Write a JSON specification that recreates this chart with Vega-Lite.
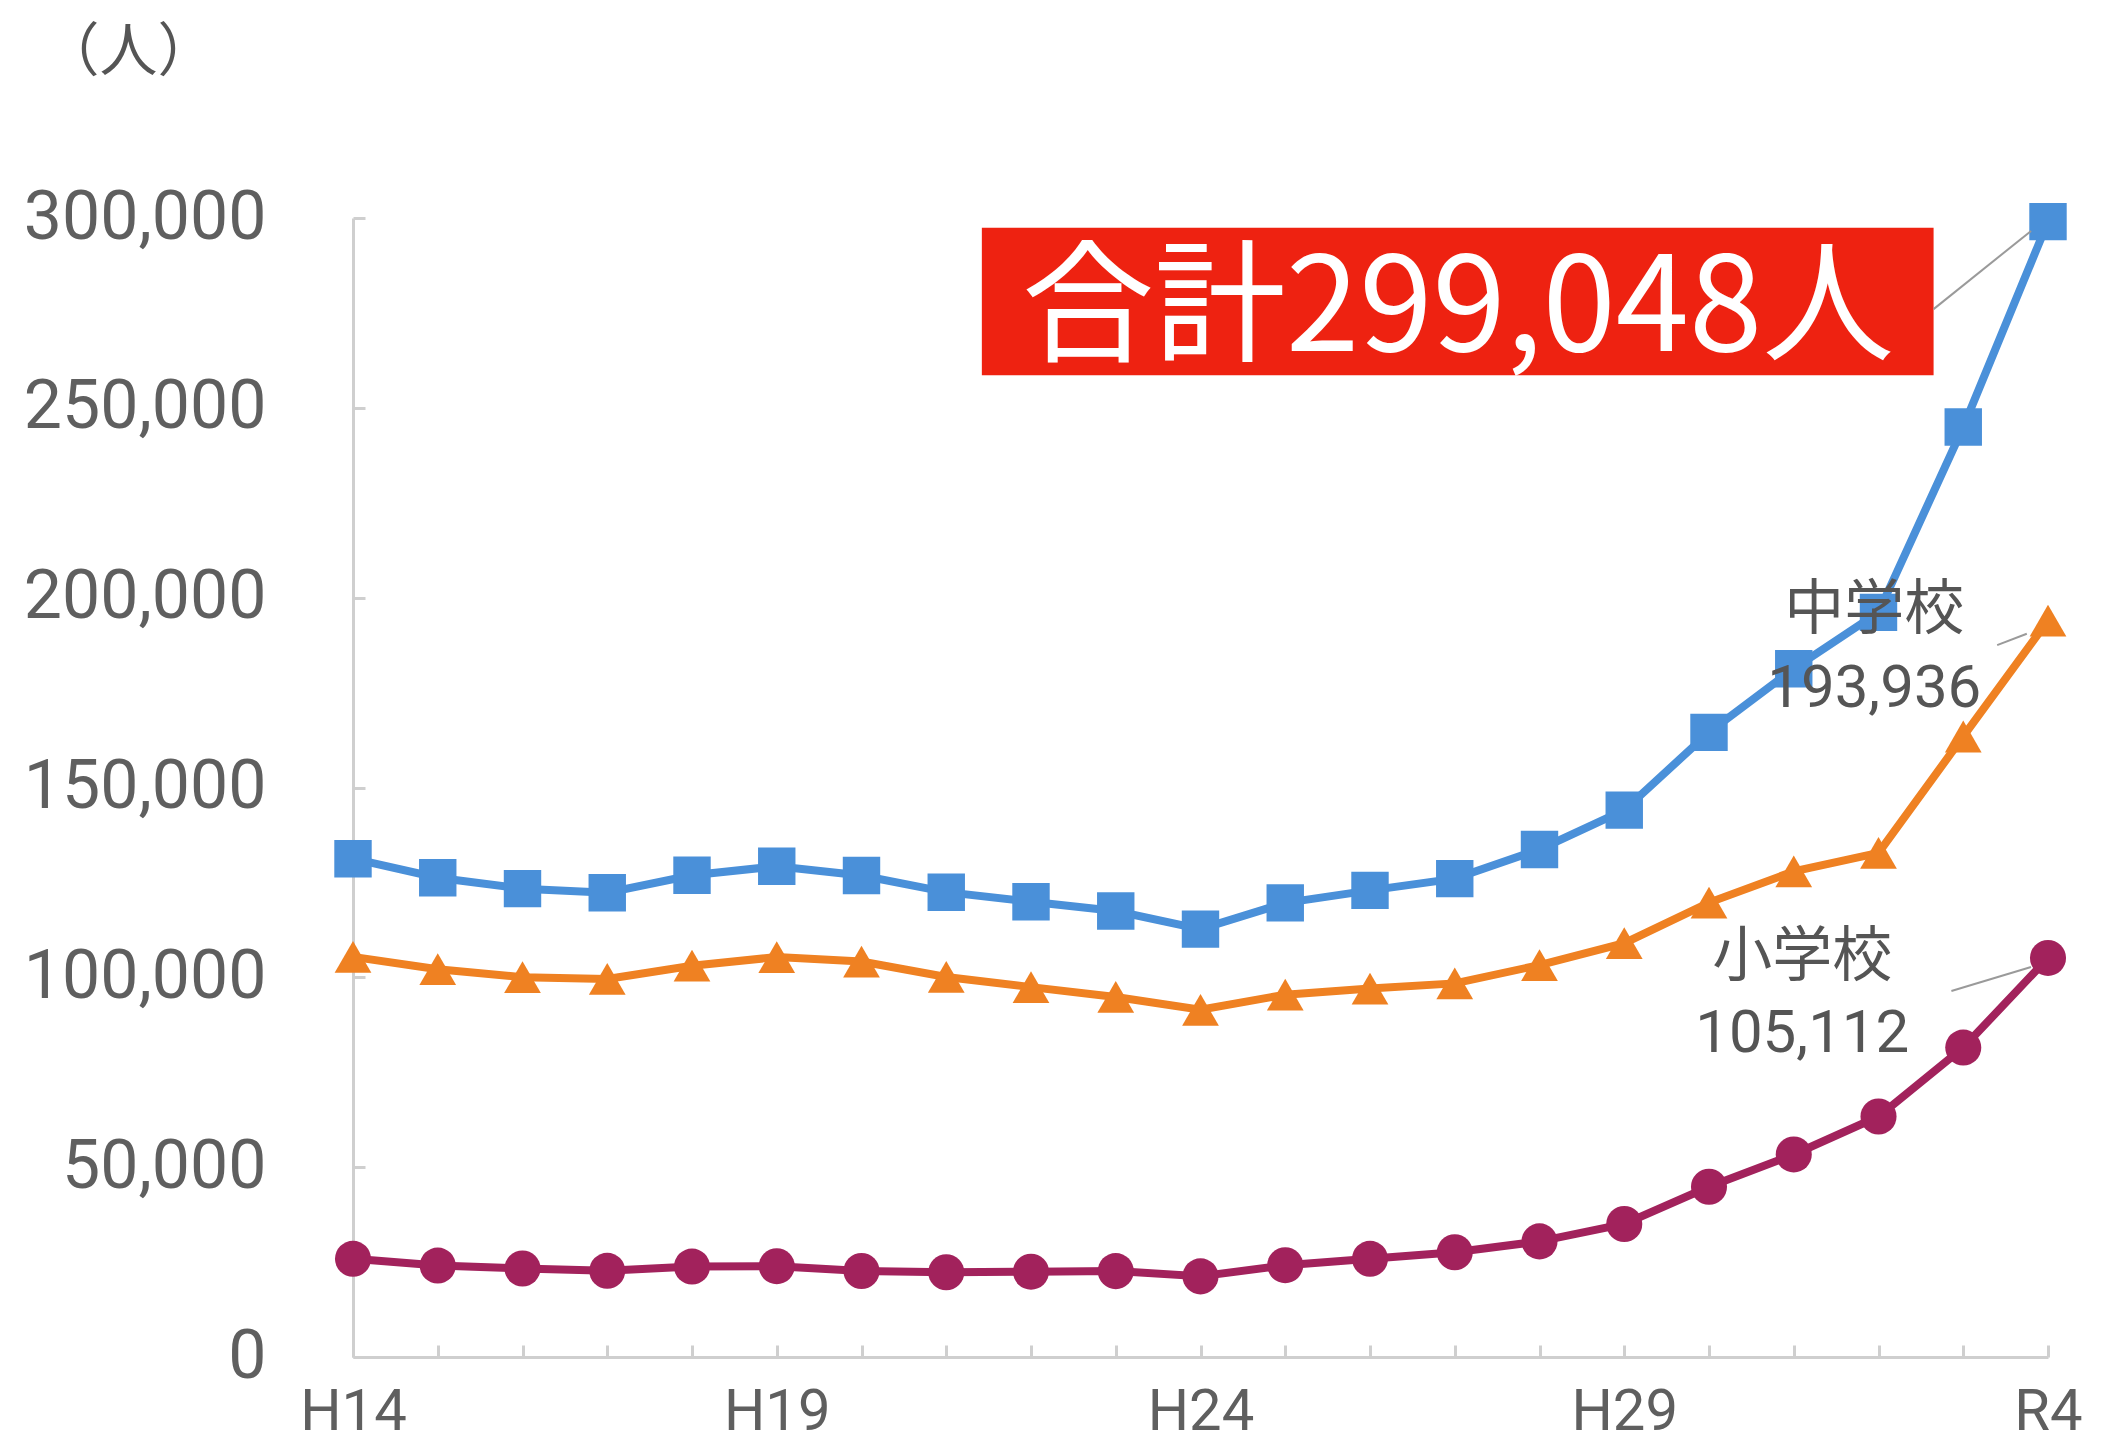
{
  "$schema": "https://vega.github.io/schema/vega-lite/v6.json",
  "width": 1695,
  "height": 1139,
  "autosize": {"type": "none"},
  "padding": {"left": 353, "top": 218, "right": 58, "bottom": 91},
  "background": "white",
  "config": {
    "view": {"stroke": null},
    "axisY": {
      "domainColor": "#cfcfcf", "domainWidth": 3,
      "tickColor": "#cfcfcf", "tickWidth": 3, "tickSize": -12,
      "labelFont": "Roboto, sans-serif",
      "labelFontSize": 68, "labelColor": "#5f5f5f", "labelPadding": 99,
      "labelLimit": 500,
      "grid": false
    },
    "axisX": {
      "domainColor": "#cfcfcf", "domainWidth": 3,
      "tickColor": "#cfcfcf", "tickWidth": 3, "tickSize": -12,
      "labelFont": "Roboto, sans-serif",
      "labelFontSize": 58, "labelColor": "#5f5f5f", "labelPadding": 38,
      "labelBaseline": "top",
      "grid": false
    }
  },
  "layer": [
    {
      "data": {"values": [
        {"year":"H14","series":"合計","value":131252},{"year":"H15","series":"合計","value":126226},{"year":"H16","series":"合計","value":123358},{"year":"H17","series":"合計","value":122287},{"year":"H18","series":"合計","value":126894},{"year":"H19","series":"合計","value":129255},{"year":"H20","series":"合計","value":126805},{"year":"H21","series":"合計","value":122432},{"year":"H22","series":"合計","value":119891},{"year":"H23","series":"合計","value":117458},{"year":"H24","series":"合計","value":112689},{"year":"H25","series":"合計","value":119617},{"year":"H26","series":"合計","value":122897},{"year":"H27","series":"合計","value":125991},{"year":"H28","series":"合計","value":133683},{"year":"H29","series":"合計","value":144031},{"year":"H30","series":"合計","value":164528},{"year":"R1","series":"合計","value":181272},{"year":"R2","series":"合計","value":196127},{"year":"R3","series":"合計","value":244940},{"year":"R4","series":"合計","value":299048},
        {"year":"H14","series":"中学校","value":105383},{"year":"H15","series":"中学校","value":102149},{"year":"H16","series":"中学校","value":100040},{"year":"H17","series":"中学校","value":99578},{"year":"H18","series":"中学校","value":103069},{"year":"H19","series":"中学校","value":105328},{"year":"H20","series":"中学校","value":104153},{"year":"H21","series":"中学校","value":100105},{"year":"H22","series":"中学校","value":97428},{"year":"H23","series":"中学校","value":94836},{"year":"H24","series":"中学校","value":91446},{"year":"H25","series":"中学校","value":95442},{"year":"H26","series":"中学校","value":97033},{"year":"H27","series":"中学校","value":98408},{"year":"H28","series":"中学校","value":103235},{"year":"H29","series":"中学校","value":108999},{"year":"H30","series":"中学校","value":119687},{"year":"R1","series":"中学校","value":127922},{"year":"R2","series":"中学校","value":132777},{"year":"R3","series":"中学校","value":163442},{"year":"R4","series":"中学校","value":193936},
        {"year":"H14","series":"小学校","value":25869},{"year":"H15","series":"小学校","value":24077},{"year":"H16","series":"小学校","value":23318},{"year":"H17","series":"小学校","value":22709},{"year":"H18","series":"小学校","value":23825},{"year":"H19","series":"小学校","value":23927},{"year":"H20","series":"小学校","value":22652},{"year":"H21","series":"小学校","value":22327},{"year":"H22","series":"小学校","value":22463},{"year":"H23","series":"小学校","value":22622},{"year":"H24","series":"小学校","value":21243},{"year":"H25","series":"小学校","value":24175},{"year":"H26","series":"小学校","value":25864},{"year":"H27","series":"小学校","value":27583},{"year":"H28","series":"小学校","value":30448},{"year":"H29","series":"小学校","value":35032},{"year":"H30","series":"小学校","value":44841},{"year":"R1","series":"小学校","value":53350},{"year":"R2","series":"小学校","value":63350},{"year":"R3","series":"小学校","value":81498},{"year":"R4","series":"小学校","value":105112}
      ]},
      "encoding": {
        "x": {
          "field": "year", "type": "ordinal",
          "sort": ["H14","H15","H16","H17","H18","H19","H20","H21","H22","H23","H24","H25","H26","H27","H28","H29","H30","R1","R2","R3","R4"],
          "scale": {"type": "point", "padding": 0},
          "title": null,
          "axis": {"labelAngle": 0, "labelExpr": "indexof(['H14','H19','H24','H29','R4'], datum.value) >= 0 ? datum.value : ''"}
        },
        "y": {
          "field": "value", "type": "quantitative",
          "scale": {"domain": [0, 300000], "nice": false},
          "title": null,
          "axis": {"values": [0,50000,100000,150000,200000,250000,300000], "labelExpr": "format(datum.value, ',')"}
        },
        "color": {
          "field": "series", "type": "nominal", "legend": null,
          "scale": {"domain": ["合計","中学校","小学校"], "range": ["#4a90d9","#ef8122","#a2225c"]}
        }
      },
      "layer": [
        {"mark": {"type": "line", "strokeWidth": 8}, "encoding": {"detail": {"field": "series"}}},
        {
          "mark": {"type": "point", "filled": true, "opacity": 1},
          "encoding": {
            "shape": {"field": "series", "type": "nominal", "legend": null,
              "scale": {"domain": ["合計","中学校","小学校"], "range": ["square","triangle-up","circle"]}},
            "size": {"field": "series", "type": "nominal", "legend": null,
              "scale": {"domain": ["合計","中学校","小学校"], "range": [1400, 1300, 1350]}}
          }
        }
      ]
    },
    {
      "layer": [
        {
          "data": {"values": [{"i": 7.42, "i2": 18.65, "value": 258600, "value2": 297400}]},
          "mark": {"type": "rect", "color": "#ee2211"},
          "encoding": {
            "x": {"field": "i", "type": "quantitative", "scale": {"domain": [0, 20], "nice": false, "zero": false}, "axis": null},
            "x2": {"field": "i2"},
            "y": {"field": "value", "type": "quantitative", "title": null},
            "y2": {"field": "value2"}
          }
        },
        {
          "data": {"values": [
            {"i": 18.65, "i2": 19.8, "value": 276000, "value2": 296600},
            {"i": 19.4, "i2": 19.75, "value": 187500, "value2": 190500},
            {"i": 18.86, "i2": 19.8, "value": 96400, "value2": 102700}
          ]},
          "mark": {"type": "rule", "color": "#9a9a9a", "strokeWidth": 2},
          "encoding": {
            "x": {"field": "i", "type": "quantitative", "axis": null},
            "x2": {"field": "i2"},
            "y": {"field": "value", "type": "quantitative", "title": null},
            "y2": {"field": "value2"}
          }
        },
        {
          "data": {"values": [{"i": 13.04, "value": 275400, "text": "合計299,048人"}]},
          "mark": {"type": "text", "color": "white", "font": "Noto Sans CJK JP", "fontSize": 132, "align": "center", "baseline": "middle"},
          "encoding": {
            "x": {"field": "i", "type": "quantitative", "axis": null},
            "y": {"field": "value", "type": "quantitative", "title": null},
            "text": {"field": "text"}
          }
        },
        {
          "data": {"values": [
            {"i": 17.95, "value": 196500, "text": "中学校"},
            {"i": 17.95, "value": 175950, "text": "193,936"},
            {"i": 17.1, "value": 105200, "text": "小学校"},
            {"i": 17.1, "value": 85200, "text": "105,112"}
          ]},
          "mark": {"type": "text", "color": "#555555", "font": "Roboto, Noto Sans CJK JP, sans-serif", "fontSize": 60, "align": "center", "baseline": "middle"},
          "encoding": {
            "x": {"field": "i", "type": "quantitative", "axis": null},
            "y": {"field": "value", "type": "quantitative", "title": null},
            "text": {"field": "text"}
          }
        },
        {
          "data": {"values": [{"i": -2.65, "value": 343200, "text": "（人）"}]},
          "mark": {"type": "text", "color": "#555555", "font": "Noto Sans CJK JP", "fontSize": 58, "align": "center", "baseline": "middle"},
          "encoding": {
            "x": {"field": "i", "type": "quantitative", "axis": null},
            "y": {"field": "value", "type": "quantitative", "title": null},
            "text": {"field": "text"}
          }
        }
      ]
    }
  ],
  "resolve": {"scale": {"x": "independent"}, "axis": {"x": "independent"}}
}
